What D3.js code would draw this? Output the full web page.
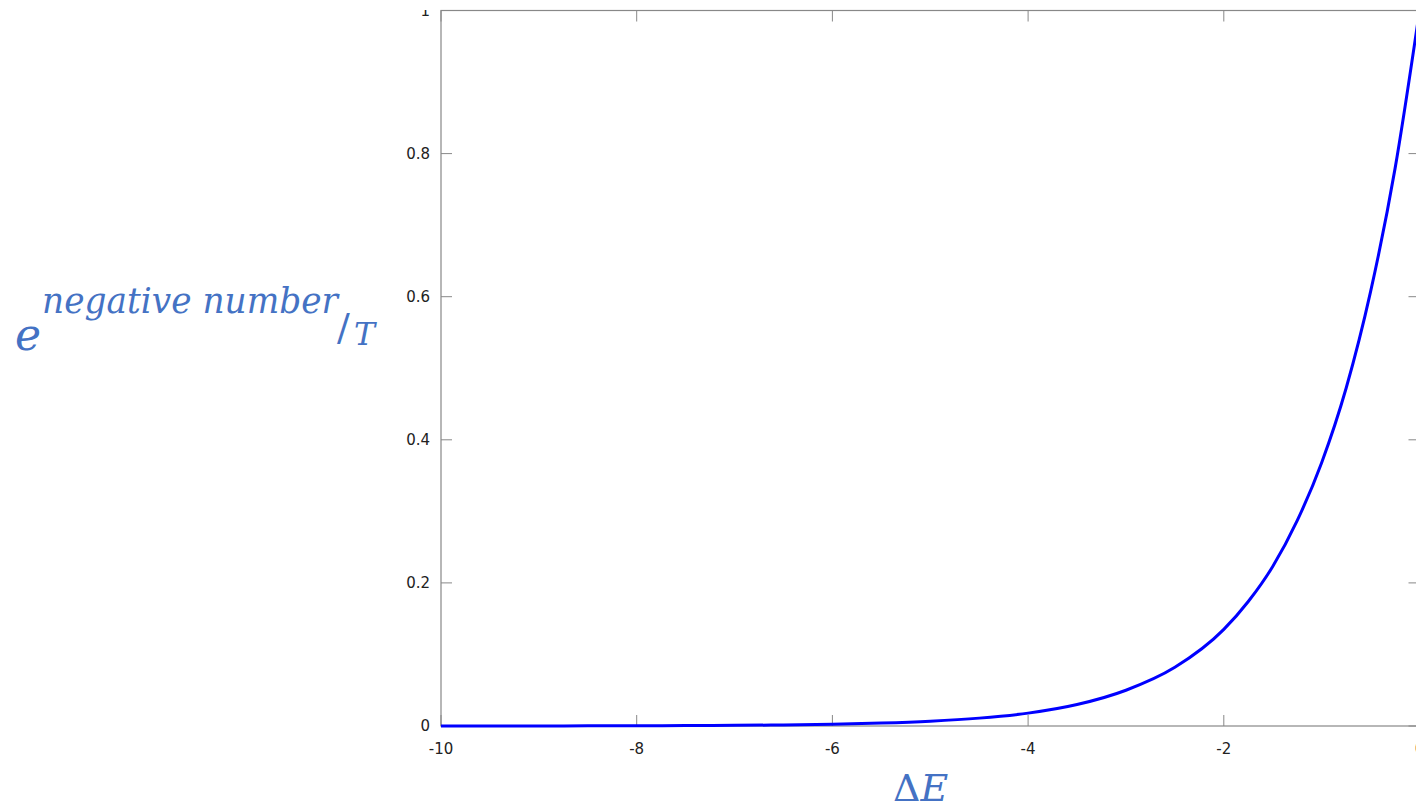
<!DOCTYPE html>
<html>
<head>
<meta charset="utf-8">
<script src="https://cdn.jsdelivr.net/npm/d3@7"></script>
<style>
  html, body { margin: 0; padding: 0; background: #fff; overflow: hidden; }
  svg { display: block; }
</style>
</head>
<body>
<div id="chart"></div>
<script>
// Values
const dE = [-10, -9.5, -9, -8.5, -8, -7.5, -7, -6.5, -6, -5.5, -5, -4.5, -4, -3.5, -3,
            -2.5, -2, -1.75, -1.5, -1.25, -1, -0.75, -0.5, -0.25, 0];
const prob = [0.0000, 0.0001, 0.0001, 0.0002, 0.0003, 0.0006, 0.0009, 0.0015, 0.0025, 0.0041,
              0.0067, 0.011, 0.018, 0.030, 0.050, 0.082, 0.135, 0.174, 0.223, 0.287,
              0.368, 0.472, 0.607, 0.779, 1.0];
const xTicks = [-10, -8, -6, -4, -2, 0];
const yTicks = [0, 0.2, 0.4, 0.6, 0.8, 1];

const W = 1416, H = 808;
const svg = d3.select('#chart').append('svg').attr('width', W).attr('height', H);

// plot box
const x = d3.scaleLinear().domain([-10, 0]).range([441, 1419.5]);
const y = d3.scaleLinear().domain([0, 1]).range([726, 10.5]);

const axisColor = '#888';
const tickLen = 11;

svg.append('rect')
    .attr('x', x(-10)).attr('y', y(1))
    .attr('width', x(0) - x(-10)).attr('height', y(0) - y(1))
    .attr('fill', 'none').attr('stroke', axisColor).attr('stroke-width', 1.2);

// ticks: inward on all four sides
const fmt = (d) => (d === 0 || d === 1 ? String(d) : d3.format('.1f')(d));
const gx = svg.append('g');
gx.selectAll('line.b').data(xTicks).enter().append('line')
    .attr('x1', (d) => x(d)).attr('x2', (d) => x(d))
    .attr('y1', y(0)).attr('y2', y(0) - tickLen)
    .attr('stroke', axisColor);
gx.selectAll('line.t').data(xTicks).enter().append('line')
    .attr('x1', (d) => x(d)).attr('x2', (d) => x(d))
    .attr('y1', y(1)).attr('y2', y(1) + tickLen)
    .attr('stroke', axisColor);
gx.selectAll('text').data(xTicks).enter().append('text')
    .attr('x', (d) => x(d)).attr('y', 754)
    .attr('text-anchor', 'middle')
    .attr('font-family', 'DejaVu Sans, sans-serif').attr('font-size', 15).attr('fill', '#222')
    .text((d) => d);

// the top label is cut in the source
svg.append('clipPath').attr('id', 'yclip')
    .append('rect').attr('x', 0).attr('y', 10).attr('width', 441).attr('height', 800);
const gy = svg.append('g');
gy.selectAll('line.l').data(yTicks).enter().append('line')
    .attr('x1', x(-10)).attr('x2', x(-10) + tickLen)
    .attr('y1', (d) => y(d)).attr('y2', (d) => y(d))
    .attr('stroke', axisColor);
gy.selectAll('line.r').data(yTicks).enter().append('line')
    .attr('x1', x(0)).attr('x2', x(0) - tickLen)
    .attr('y1', (d) => y(d)).attr('y2', (d) => y(d))
    .attr('stroke', axisColor);
gy.append('g').attr('clip-path', 'url(#yclip)')
    .selectAll('text').data(yTicks).enter().append('text')
    .attr('x', 430).attr('y', (d) => (d === 1 ? 11 : y(d)))
    .attr('dy', '0.36em')
    .attr('text-anchor', 'end')
    .attr('font-family', 'DejaVu Sans, sans-serif').attr('font-size', 15).attr('fill', '#222')
    .text(fmt);

// curve
const pts = dE.map((d, i) => ({ x: d, y: prob[i] }));
const line = d3.line().x((d) => x(d.x)).y((d) => y(d.y)).curve(d3.curveMonotoneX);
svg.append('path').datum(pts)
    .attr('d', line)
    .attr('fill', 'none').attr('stroke', '#0000ff').attr('stroke-width', 3)
    .attr('stroke-linejoin', 'round');

// axis titles
const blue = '#4472c4';
const serif = 'Cambria Math, DejaVu Serif, serif';
const yt = svg.append('g').attr('fill', blue).attr('font-family', serif).attr('font-style', 'italic');
yt.append('text').attr('x', 15).attr('y', 350).attr('font-size', 44).text('e');
yt.append('text').attr('x', 42).attr('y', 313).attr('font-size', 35)
    .attr('textLength', 296).attr('lengthAdjust', 'spacingAndGlyphs')
    .text('negative number');
yt.append('text').attr('x', 337).attr('y', 340).attr('font-size', 38)
    .attr('font-style', 'normal').text('/');
yt.append('text').attr('x', 354).attr('y', 345).attr('font-size', 31)
    .attr('textLength', 21).attr('lengthAdjust', 'spacingAndGlyphs').text('T');

const xt = svg.append('text').attr('x', 893).attr('y', 801)
    .attr('fill', blue).attr('font-family', serif).attr('font-size', 38);
xt.append('tspan').text('Δ');
xt.append('tspan').attr('font-style', 'italic').text('E');
</script>
</body>
</html>
